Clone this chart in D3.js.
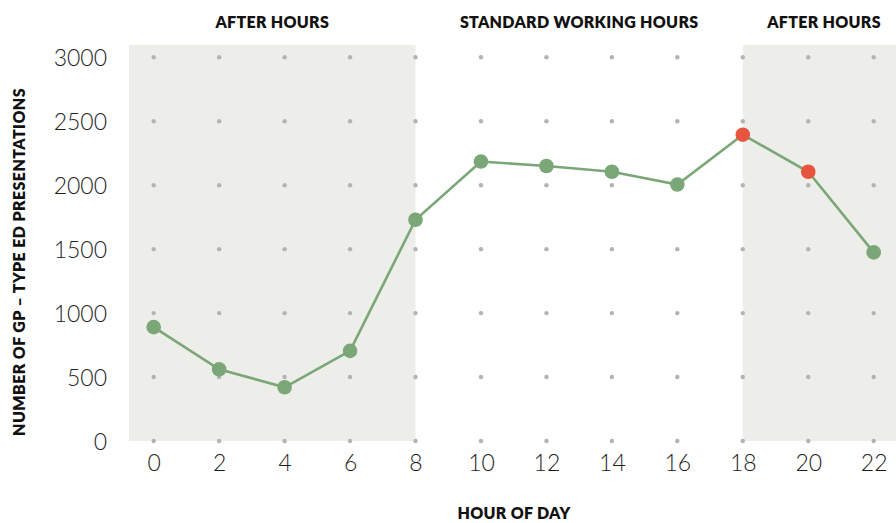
<!DOCTYPE html>
<html>
<head>
<meta charset="utf-8">
<script src="https://cdn.jsdelivr.net/npm/d3@7"></script>
<style>
  body { margin: 0; background: #fff; }
  text { font-family: Lato, "Open Sans", sans-serif; }
</style>
</head>
<body>
<svg id="chart"></svg>
<script>

var width = 896,
    height = 523;

// data
var hours = [0, 2, 4, 6, 8, 10, 12, 14, 16, 18, 20, 22];
var presentations = [890, 560, 420, 705, 1730, 2185, 2150, 2105, 2005, 2395, 2105, 1475];
var highlighted = [18, 20];

var yTicks = [0, 500, 1000, 1500, 2000, 2500, 3000];
var xTicks = [0, 2, 4, 6, 8, 10, 12, 14, 16, 18, 20, 22];

var bands = [
  {label: "AFTER HOURS", from: null, to: 8, shaded: true},
  {label: "STANDARD WORKING HOURS", from: 8, to: 18, shaded: false},
  {label: "AFTER HOURS", from: 18, to: null, shaded: true}
];

var green = "#7ba677",
    red = "#e8553f",
    shade = "#edeee9";

var svg = d3.select("#chart")
  .attr("width", width)
  .attr("height", height);

var x = d3.scaleLinear().domain([0, 22]).range([153.7, 873.7]);
var y = d3.scaleLinear().domain([0, 3000]).range([441, 57.3]);

var plotLeft = 129,
    plotRight = 906,
    plotTop = 45;

function bandLeft(b) { return b.from === null ? plotLeft : x(b.from); }
function bandRight(b) { return b.to === null ? plotRight : x(b.to); }

// shaded after-hours areas
svg.selectAll("rect.band")
  .data(bands.filter(function(b) { return b.shaded; }))
  .enter().append("rect")
    .attr("class", "band")
    .attr("x", bandLeft)
    .attr("y", plotTop)
    .attr("width", function(b) { return bandRight(b) - bandLeft(b); })
    .attr("height", y(0) - plotTop)
    .attr("fill", shade);

// band labels
svg.selectAll("text.bandLabel")
  .data(bands)
  .enter().append("text")
    .attr("class", "bandLabel")
    .attr("x", function(b, i) { return i == 2 ? 824 : (bandLeft(b) + bandRight(b)) / 2; })
    .attr("y", 28)
    .attr("text-anchor", "middle")
    .attr("font-size", 16)
    .attr("font-weight", 800)
    .attr("letter-spacing", 0.3)
    .attr("fill", "#111")
    .text(function(b) { return b.label; });

// dot grid
var grid = [];
xTicks.forEach(function(h) {
  yTicks.forEach(function(v) { grid.push({h: h, v: v}); });
});

svg.selectAll("circle.grid")
  .data(grid)
  .enter().append("circle")
    .attr("class", "grid")
    .attr("cx", function(d) { return x(d.h); })
    .attr("cy", function(d) { return y(d.v); })
    .attr("r", 2.2)
    .attr("fill", "#b4b2b3");

// axes (labels only)
var yAxis = svg.append("g")
  .attr("transform", "translate(107,0)")
  .call(d3.axisLeft(y).tickValues(yTicks).tickFormat(d3.format("d")).tickSize(0).tickPadding(0));
var xAxis = svg.append("g")
  .attr("transform", "translate(0,455)")
  .call(d3.axisBottom(x).tickValues(xTicks).tickFormat(d3.format("d")).tickSize(0).tickPadding(0));

[yAxis, xAxis].forEach(function(a) {
  a.select(".domain").remove();
  a.selectAll("text")
    .attr("font-family", "Lato, sans-serif")
    .attr("font-size", 23)
    .attr("font-weight", 300)
    .attr("fill", "#1e1e1e");
});
yAxis.selectAll("text").attr("dy", "0.36em");

// axis titles
svg.append("text")
  .attr("x", 514)
  .attr("y", 519)
  .attr("text-anchor", "middle")
  .attr("font-size", 16)
  .attr("font-weight", 800)
  .attr("letter-spacing", 0.3)
  .attr("fill", "#111")
  .text("HOUR OF DAY");

svg.append("text")
  .attr("transform", "translate(25,262) rotate(-90)")
  .attr("text-anchor", "middle")
  .attr("font-size", 16)
  .attr("font-weight", 800)
  .attr("letter-spacing", 0.4)
  .attr("fill", "#111")
  .text("NUMBER OF GP \u2013 TYPE ED PRESENTATIONS");

// line + points
var points = hours.map(function(h, i) { return {h: h, v: presentations[i]}; });

var line = d3.line()
  .x(function(d) { return x(d.h); })
  .y(function(d) { return y(d.v); });

svg.append("path")
  .datum(points)
  .attr("d", line)
  .attr("fill", "none")
  .attr("stroke", green)
  .attr("stroke-width", 2.6);

svg.selectAll("circle.point")
  .data(points)
  .enter().append("circle")
    .attr("class", "point")
    .attr("cx", function(d) { return x(d.h); })
    .attr("cy", function(d) { return y(d.v); })
    .attr("r", 7.3)
    .attr("fill", function(d) { return highlighted.indexOf(d.h) >= 0 ? red : green; });

</script>
</body>
</html>
